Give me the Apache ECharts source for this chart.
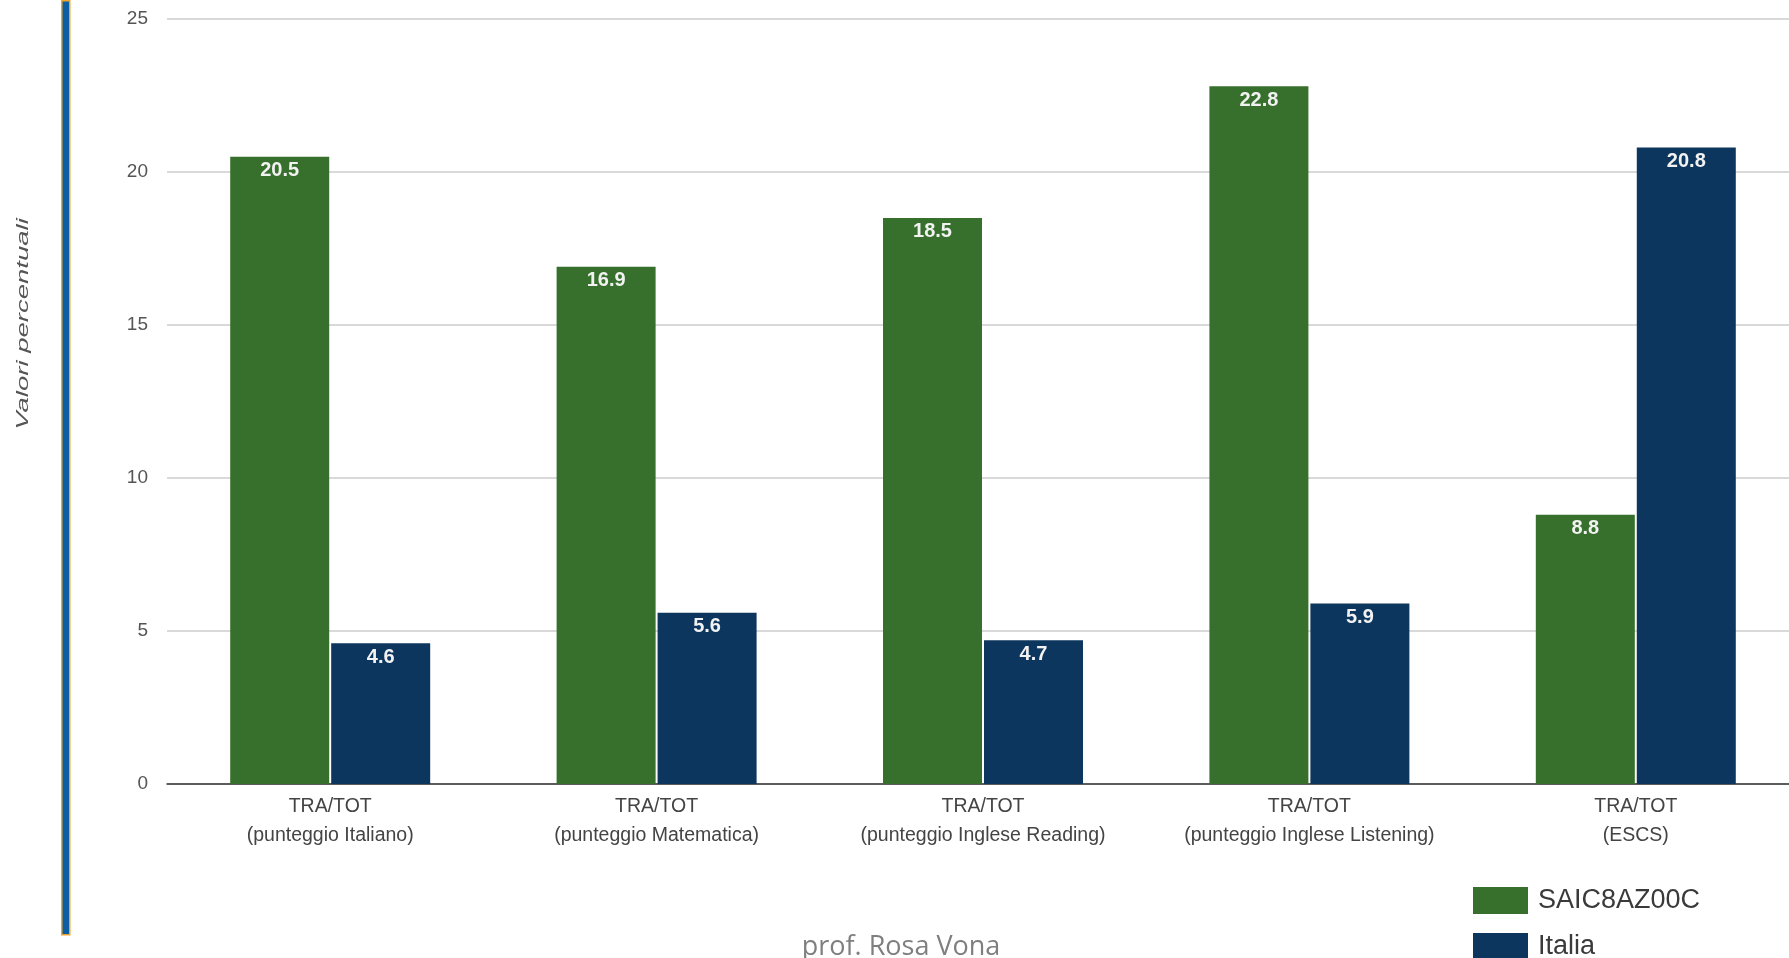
<!DOCTYPE html>
<html>
<head>
<meta charset="utf-8">
<style>
html,body{margin:0;padding:0;background:#fff;}
#chart{width:1789px;height:958px;}
</style>
<script src="https://cdn.jsdelivr.net/npm/echarts@6/dist/echarts.min.js"></script>
</head>
<body>
<div id="chart"></div>
<script>
const categories = [
  'TRA/TOT\n(punteggio Italiano)',
  'TRA/TOT\n(punteggio Matematica)',
  'TRA/TOT\n(punteggio Inglese Reading)',
  'TRA/TOT\n(punteggio Inglese Listening)',
  'TRA/TOT\n(ESCS)'
];
const schoolValues = [20.5, 16.9, 18.5, 22.8, 8.8];
const italiaValues = [4.6, 5.6, 4.7, 5.9, 20.8];
const seriesNames = ['SAIC8AZ00C', 'Italia'];
const yTitle = 'Valori percentuali';
const footer = 'prof. Rosa Vona';

const chart = echarts.init(document.getElementById('chart'), null, {renderer: 'canvas'});
const font = '"Liberation Sans", Arial, sans-serif';
const labelStyle = {
  show: true, position: 'insideTop', distance: 4,
  color: '#f2f2f2', fontWeight: 'bold', fontSize: 20, fontFamily: font
};
const legendBase = {
  orient: 'vertical', left: 1473, padding: 0,
  itemWidth: 55, itemHeight: 27, itemGap: 19,
  icon: 'rect',
  textStyle: {color: '#3a3a3a', fontSize: 27, fontFamily: font, padding: [0, 0, 0, 5]}
};
chart.setOption({
  animation: false,
  backgroundColor: '#ffffff',
  grid: {left: 167, top: 19, width: 1632, bottom: 174, containLabel: false, outerBoundsMode: 'none'},
  xAxis: {
    type: 'category', data: categories,
    axisLine: {show: true, lineStyle: {color: '#333', width: 1.5}},
    axisTick: {show: false},
    axisLabel: {color: '#444', fontSize: 19.5, fontFamily: font, lineHeight: 29, margin: 8, interval: 0}
  },
  yAxis: {
    type: 'value', min: 0, max: 25, interval: 5,
    axisLine: {show: false}, axisTick: {show: false},
    axisLabel: {color: '#555', fontSize: 19, fontFamily: font, margin: 19},
    splitLine: {lineStyle: {color: '#cccccc', width: 1.5}}
  },
  legend: [
    Object.assign({}, legendBase, {top: 887, data: [seriesNames[0]]}),
    Object.assign({}, legendBase, {top: 933, data: [seriesNames[1]]})
  ],
  series: [
    {name: seriesNames[0], type: 'bar', data: schoolValues, barWidth: 99, barGap: '2%',
     itemStyle: {color: '#37702c'}, label: labelStyle},
    {name: seriesNames[1], type: 'bar', data: italiaValues, barWidth: 99, barGap: '2%',
     itemStyle: {color: '#0c365d'}, label: labelStyle}
  ],
  graphic: [
    {type: 'rect', left: 61, top: 0, shape: {x: 0, y: 0, width: 8, height: 934},
     style: {fill: '#0b5ea3', stroke: '#f2a42a', lineWidth: 1.5}},
    {type: 'text', x: 24, y: 324, rotation: Math.PI / 2, scaleX: 1.72,
     style: {text: yTitle, fill: '#555', font: 'italic 16px "Liberation Sans", Arial, sans-serif',
             align: 'center', verticalAlign: 'middle'}},
    {type: 'text', x: 901, y: 947,
     style: {text: footer, fill: '#7f7f7f', font: '27px "Open Sans", sans-serif',
             align: 'center', verticalAlign: 'middle'}}
  ]
});
</script>
</body>
</html>
